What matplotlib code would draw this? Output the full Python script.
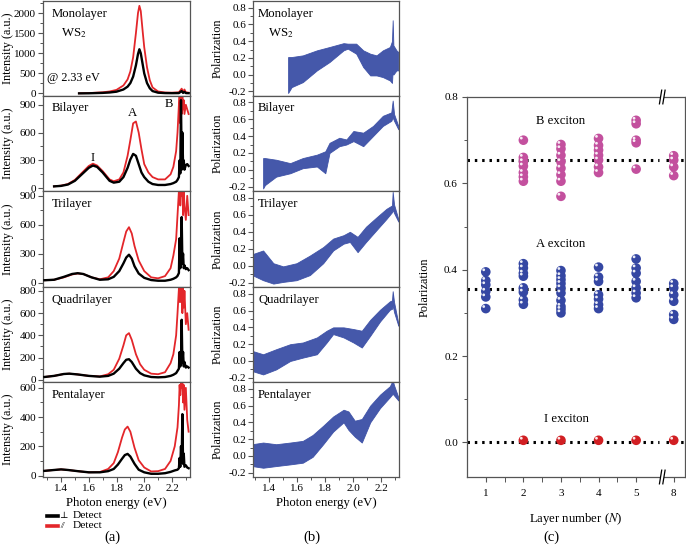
import matplotlib
matplotlib.use('Agg')
import matplotlib.pyplot as plt
import matplotlib.transforms as mtransforms
from matplotlib.lines import Line2D
from matplotlib.patches import Rectangle
from matplotlib.ticker import MultipleLocator, FormatStrFormatter

plt.rcParams['font.family'] = ['Liberation Serif', 'DejaVu Serif']
plt.rcParams['mathtext.fontset'] = 'stix'
plt.rcParams['axes.unicode_minus'] = True

# ---------------- (a) PL intensity spectra ----------------
mono_x = [1.53, 1.60, 1.70, 1.75, 1.80, 1.85, 1.88, 1.90, 1.92, 1.94, 1.955, 1.965, 1.975, 1.99,
          2.00, 2.02, 2.04, 2.06, 2.10, 2.15, 2.20, 2.25, 2.27, 2.28, 2.29, 2.30, 2.32]
mono_red = [5, 10, 30, 50, 90, 200, 350, 550, 900, 1500, 2000, 2180, 2050, 1500,
            1150, 650, 330, 150, 50, 25, 20, 30, 120, 40, 100, 30, 20]
mono_black = [3, 5, 15, 25, 45, 100, 170, 260, 420, 700, 980, 1100, 1000, 700,
              500, 260, 130, 60, 20, 10, 8, 10, 60, 15, 40, 10, 8]

bi_x = [1.35, 1.40, 1.45, 1.50, 1.55, 1.60, 1.63, 1.66, 1.70, 1.75, 1.78, 1.82, 1.85, 1.88, 1.90,
        1.92, 1.94, 1.96, 1.98, 2.00, 2.03, 2.06, 2.10, 2.15, 2.19, 2.21, 2.23, 2.24, 2.25, 2.255,
        2.26, 2.265, 2.27, 2.275, 2.28, 2.285, 2.29, 2.30, 2.31, 2.32]
bi_black = [20, 25, 40, 80, 150, 220, 245, 230, 170, 80, 60, 70, 120, 220, 310,
            370, 350, 260, 170, 120, 70, 45, 35, 35, 45, 55, 70, 90, 120, 300,
            160, 950, 200, 600, 250, 300, 200, 250, 260, 240]
bi_red = [20, 28, 45, 90, 165, 240, 265, 245, 185, 95, 75, 95, 170, 350, 520,
          700, 720, 600, 420, 260, 170, 120, 95, 95, 150, 230, 400, 600, 900, 1000,
          700, 1000, 800, 1000, 850, 950, 800, 900, 850, 800]

tri_x = [1.28, 1.35, 1.42, 1.48, 1.52, 1.56, 1.62, 1.68, 1.74, 1.78, 1.82, 1.85, 1.87, 1.89,
         1.91, 1.93, 1.96, 2.00, 2.05, 2.10, 2.15, 2.19, 2.21, 2.23, 2.24, 2.25, 2.255, 2.26,
         2.265, 2.27, 2.275, 2.28, 2.285, 2.29, 2.30, 2.31, 2.32]
tri_black = [25, 30, 60, 90, 98, 90, 55, 30, 35, 60, 120, 200, 260, 290,
             250, 170, 95, 50, 27, 20, 20, 30, 40, 55, 70, 100, 460, 150,
             200, 680, 200, 300, 150, 180, 140, 150, 130]
tri_red = [25, 30, 55, 85, 95, 90, 55, 35, 55, 120, 250, 420, 530, 575,
           510, 380, 230, 120, 55, 45, 68, 150, 280, 450, 700, 950, 1000, 800,
           1000, 900, 1000, 700, 950, 800, 650, 900, 700]

quad_x = [1.28, 1.35, 1.42, 1.46, 1.52, 1.60, 1.68, 1.74, 1.78, 1.82, 1.85, 1.87, 1.89, 1.91,
          1.94, 1.97, 2.00, 2.05, 2.10, 2.15, 2.19, 2.21, 2.23, 2.24, 2.25, 2.255, 2.26, 2.265,
          2.27, 2.275, 2.28, 2.285, 2.29, 2.30, 2.31, 2.32]
quad_black = [25, 35, 52, 55, 48, 35, 28, 35, 55, 100, 150, 180, 185, 160,
              100, 60, 40, 25, 22, 25, 35, 45, 60, 80, 100, 250, 120, 160,
              540, 150, 250, 120, 160, 110, 120, 110]
quad_red = [25, 35, 52, 55, 48, 35, 30, 50, 90, 190, 310, 400, 420, 360,
            230, 140, 90, 55, 50, 68, 150, 230, 400, 600, 820, 700, 850, 700,
            850, 600, 820, 650, 800, 500, 600, 450]

penta_x = [1.28, 1.35, 1.40, 1.45, 1.52, 1.60, 1.68, 1.74, 1.78, 1.81, 1.84, 1.86, 1.88, 1.90,
           1.93, 1.96, 2.00, 2.05, 2.10, 2.15, 2.19, 2.22, 2.24, 2.25, 2.255, 2.26, 2.265, 2.27,
           2.275, 2.28, 2.285, 2.29, 2.30, 2.31, 2.32]
penta_black = [32, 38, 42, 38, 30, 22, 22, 30, 45, 75, 115, 140, 148, 130,
               80, 40, 22, 12, 12, 16, 25, 35, 40, 50, 120, 60, 200, 90,
               420, 80, 150, 60, 70, 55, 50]
penta_red = [32, 38, 42, 38, 30, 22, 24, 45, 85, 160, 260, 315, 335, 300,
             190, 105, 55, 28, 30, 45, 100, 200, 330, 480, 620, 550, 640, 600,
             640, 500, 620, 450, 600, 380, 300]

layer_names = ['Monolayer', 'Bilayer', 'Trilayer', 'Quadrilayer', 'Pentalayer']

# ---------------- (b) polarization envelopes ----------------
pm_x = [1.535, 1.56, 1.64, 1.74, 1.83, 1.93, 1.96, 2.02, 2.07, 2.12, 2.165, 2.21, 2.26, 2.275, 2.28, 2.285, 2.307, 2.32]
pm_hi = [0.21, 0.21, 0.23, 0.29, 0.33, 0.376, 0.37, 0.37, 0.29, 0.25, 0.23, 0.29, 0.33, 0.40, 0.65, 0.35, 0.29, 0.27]
pm_lo = [-0.22, -0.15, -0.09, 0.05, 0.15, 0.29, 0.31, 0.25, 0.09, -0.01, -0.01, -0.03, -0.07, -0.10, 0.05, 0.0, 0.05, 0.05]

pb_x = [1.357, 1.37, 1.45, 1.55, 1.64, 1.74, 1.80, 1.83, 1.90, 1.95, 2.00, 2.07, 2.14, 2.21, 2.27, 2.28, 2.29, 2.32]
pb_hi = [0.14, 0.14, 0.12, 0.08, 0.14, 0.18, 0.22, 0.32, 0.38, 0.36, 0.46, 0.44, 0.52, 0.64, 0.68, 0.82, 0.66, 0.52]
pb_lo = [-0.22, -0.18, -0.08, -0.04, 0.02, 0.04, -0.04, 0.20, 0.28, 0.30, 0.34, 0.28, 0.40, 0.52, 0.58, 0.62, 0.58, 0.48]

pt_x = [1.28, 1.357, 1.43, 1.50, 1.595, 1.69, 1.785, 1.856, 1.93, 1.975, 2.03, 2.09, 2.165, 2.235, 2.275, 2.28, 2.29, 2.32]
pt_hi = [0.136, 0.18, 0.03, -0.007, 0.03, 0.12, 0.22, 0.32, 0.36, 0.40, 0.34, 0.46, 0.57, 0.67, 0.71, 0.87, 0.72, 0.55]
pt_lo = [-0.11, -0.17, -0.21, -0.19, -0.17, -0.11, 0.03, 0.18, 0.26, 0.28, 0.16, 0.28, 0.42, 0.55, 0.63, 0.66, 0.62, 0.52]

pq_x = [1.28, 1.357, 1.45, 1.55, 1.64, 1.74, 1.81, 1.856, 1.93, 2.00, 2.06, 2.12, 2.19, 2.26, 2.275, 2.28, 2.29, 2.32]
pq_hi = [0.12, 0.08, 0.14, 0.20, 0.22, 0.28, 0.36, 0.40, 0.40, 0.38, 0.36, 0.49, 0.61, 0.71, 0.72, 0.83, 0.70, 0.45]
pq_lo = [-0.12, -0.16, -0.10, 0.0, 0.04, 0.08, 0.22, 0.32, 0.28, 0.22, 0.16, 0.30, 0.47, 0.61, 0.62, 0.66, 0.58, 0.42]

pp_x = [1.28, 1.357, 1.45, 1.55, 1.64, 1.71, 1.785, 1.856, 1.93, 1.965, 2.01, 2.06, 2.12, 2.19, 2.26, 2.28, 2.29, 2.32]
pp_hi = [0.14, 0.16, 0.14, 0.16, 0.18, 0.25, 0.36, 0.47, 0.55, 0.53, 0.42, 0.44, 0.60, 0.73, 0.83, 0.90, 0.84, 0.70]
pp_lo = [-0.12, -0.14, -0.12, -0.10, -0.08, -0.01, 0.14, 0.29, 0.40, 0.31, 0.23, 0.16, 0.40, 0.57, 0.70, 0.74, 0.72, 0.66]

# ---------------- (c) polarization vs layer number ----------------
layer_labels = ['1', '2', '3', '4', '5', '8']
layer_pos = [1, 2, 3, 4, 5, 6]
B_vals = {2: [0.70, 0.66, 0.65, 0.64, 0.625, 0.615, 0.605],
          3: [0.69, 0.68, 0.665, 0.65, 0.635, 0.62, 0.605, 0.57],
          4: [0.704, 0.688, 0.677, 0.665, 0.654, 0.638, 0.625],
          5: [0.746, 0.738, 0.70, 0.694, 0.633],
          6: [0.664, 0.654, 0.638, 0.618]}
A_vals = {1: [0.395, 0.375, 0.365, 0.35, 0.337, 0.31],
          2: [0.414, 0.404, 0.392, 0.385, 0.358, 0.348, 0.33, 0.32],
          3: [0.398, 0.386, 0.377, 0.368, 0.358, 0.346, 0.329, 0.315, 0.308, 0.30],
          4: [0.406, 0.383, 0.373, 0.342, 0.332, 0.319, 0.31],
          5: [0.425, 0.404, 0.392, 0.373, 0.358, 0.346, 0.335],
          6: [0.368, 0.358, 0.342, 0.327, 0.296, 0.285]}
I_vals = {2: [0.005], 3: [0.005], 4: [0.005], 5: [0.005], 6: [0.005]}
B_mean, A_mean, I_mean = 0.655, 0.355, 0.0

# ---------------- figure ----------------
W, H = 686, 548
fig = plt.figure(figsize=(W / 100, H / 100), dpi=100)

def px_axes(l, t, r, b):
    return fig.add_axes([l / W, 1 - b / H, (r - l) / W, (b - t) / H])

SPC = '#555555'
FS = 8.0
LFS = 8.8
NFS = 9.2

def style(ax):
    for s in ax.spines.values():
        s.set_color(SPC)
        s.set_linewidth(0.9)
    ax.tick_params(which='both', direction='out', color=SPC, labelsize=FS, pad=1.5)
    ax.tick_params(which='major', length=3.5, width=0.8)
    ax.tick_params(which='minor', length=2, width=0.7)

tops = [1, 95.5, 191, 287, 382]
bots = [95.5, 191, 287, 382, 477]

spectra = [(mono_x, mono_black, mono_red, (-50, 2300), 500, 250),
           (bi_x, bi_black, bi_red, (-30, 1000), 300, 150),
           (tri_x, tri_black, tri_red, (-45, 950), 300, 150),
           (quad_x, quad_black, quad_red, (-20, 835), 200, 100),
           (penta_x, penta_black, penta_red, (-10, 640), 200, 100)]
pols = [(pm_x, pm_hi, pm_lo), (pb_x, pb_hi, pb_lo), (pt_x, pt_hi, pt_lo),
        (pq_x, pq_hi, pq_lo), (pp_x, pp_hi, pp_lo)]

RED = '#e3262a'
BLUE = '#3b4fa6'
XL = (1.27, 2.33)

for i in range(5):
    x, yb, yr, yl, maj, mnr = spectra[i]
    ax = px_axes(43, tops[i], 190, bots[i])
    style(ax)
    ax.plot(x, yr, color=RED, lw=1.3, zorder=2)
    ax.plot(x, yb, color='black', lw=1.7, zorder=3)
    ax.set_xlim(*XL)
    ax.set_ylim(*yl)
    ax.xaxis.set_major_locator(MultipleLocator(0.2))
    ax.xaxis.set_minor_locator(MultipleLocator(0.1))
    ax.xaxis.set_major_formatter(FormatStrFormatter('%.1f'))
    ax.yaxis.set_major_locator(MultipleLocator(maj))
    ax.yaxis.set_minor_locator(MultipleLocator(mnr))
    ax.set_ylabel('Intensity (a.u.)', fontsize=LFS)
    ax.yaxis.set_label_coords(-0.195, 0.5)
    ax.text(0.06, 0.93, layer_names[i], transform=ax.transAxes, fontsize=NFS, va='top', ha='left')
    if i < 4:
        ax.tick_params(axis='x', which='both', length=0, labelbottom=False)
    else:
        ax.set_xlabel('Photon energy (eV)', fontsize=NFS, labelpad=3)
    if i == 0:
        ax.text(0.12, 0.73, 'WS$_2$', transform=ax.transAxes, fontsize=NFS, va='top', ha='left')
        ax.text(0.03, 0.19, '@ 2.33 eV', transform=ax.transAxes, fontsize=8.8, va='center', ha='left')
    if i == 1:
        ax.text(1.625, 290, 'I', fontsize=NFS, ha='center')
        ax.text(1.915, 780, 'A', fontsize=NFS, ha='center')
        ax.text(2.175, 880, 'B', fontsize=NFS, ha='center')

    # polarization panel
    px, hi, lo = pols[i]
    bx = px_axes(253, tops[i], 399, bots[i])
    style(bx)
    bx.fill_between(px, lo, hi, color=BLUE, alpha=0.95, lw=0.6, edgecolor=BLUE)
    bx.set_xlim(1.285, 2.325)
    bx.set_ylim(-0.25, 0.88)
    bx.xaxis.set_major_locator(MultipleLocator(0.2))
    bx.xaxis.set_minor_locator(MultipleLocator(0.1))
    bx.xaxis.set_major_formatter(FormatStrFormatter('%.1f'))
    bx.yaxis.set_major_locator(MultipleLocator(0.2))
    bx.yaxis.set_minor_locator(MultipleLocator(0.1))
    bx.yaxis.set_major_formatter(FormatStrFormatter('%.1f'))
    bx.set_ylabel('Polarization', fontsize=LFS)
    bx.yaxis.set_label_coords(-0.2, 0.5)
    bx.text(0.035, 0.93, layer_names[i], transform=bx.transAxes, fontsize=NFS, va='top', ha='left')
    if i < 4:
        bx.tick_params(axis='x', which='both', length=0, labelbottom=False)
    else:
        bx.set_xlabel('Photon energy (eV)', fontsize=NFS, labelpad=3)
    if i == 0:
        bx.text(0.10, 0.73, 'WS$_2$', transform=bx.transAxes, fontsize=NFS, va='top', ha='left')

# legend for (a)
fig.add_artist(Line2D([47 / W, 58 / W], [1 - 515.5 / H] * 2, color='black', lw=2.6))
fig.add_artist(Line2D([47 / W, 58 / W], [1 - 526 / H] * 2, color=RED, lw=2.6))
fig.text(59.5 / W, 1 - 516.5 / H, '\u22a5', fontsize=6.5, va='center', ha='left')
fig.text(60 / W, 1 - 526 / H, '//', fontsize=5.5, va='center', ha='left', style='italic')
fig.text(73 / W, 1 - 515 / H, 'Detect', fontsize=8.2, va='center', ha='left')
fig.text(73 / W, 1 - 526 / H, 'Detect', fontsize=8.2, va='center', ha='left')

# ---------------- (c) ----------------
cx = px_axes(467, 97, 685, 477)
style(cx)
cx.set_xlim(0.5, 6.3)
cx.set_ylim(-0.08, 0.8)
cx.set_xticks(layer_pos)
cx.set_xticklabels(layer_labels)
cx.set_xticks([1.5, 2.5, 3.5, 4.5], minor=True)
cx.yaxis.set_major_locator(MultipleLocator(0.2))
cx.yaxis.set_minor_locator(MultipleLocator(0.1))
cx.yaxis.set_major_formatter(FormatStrFormatter('%.1f'))
cx.tick_params(axis='x', which='minor', length=3.5)
cx.tick_params(axis='x', which='major', pad=5)
cx.tick_params(axis='y', which='major', pad=3)
cx.set_xlabel('Layer number ($N$)', fontsize=NFS)
cx.xaxis.set_label_coords(0.5, -0.09)
cx.set_ylabel('Polarization', fontsize=LFS)
cx.yaxis.set_label_coords(-0.165, 0.5)

brk = 5.68
for ym in (B_mean, A_mean, I_mean):
    cx.plot([0.5, brk - 0.06], [ym, ym], color='black', lw=2.2, ls=(0, (0.8, 1.6)), zorder=2)
    cx.plot([brk + 0.12, 6.3], [ym, ym], color='black', lw=2.2, ls=(0, (0.8, 1.6)), zorder=2)

hl = mtransforms.offset_copy(cx.transData, fig=fig, x=-1.5, y=1.5, units='points')
for vals, col in ((B_vals, '#c3509e'), (A_vals, '#3547a3'), (I_vals, '#d11f23')):
    for p, v in vals.items():
        cx.scatter([p] * len(v), v, s=48, color=col, edgecolors='none', zorder=3)
        cx.scatter([p] * len(v), v, s=4, color='white', edgecolors='none', zorder=4, alpha=0.9, transform=hl)

cx.text(3.0, 0.745, 'B exciton', fontsize=NFS, ha='center', va='center')
cx.text(3.0, 0.46, 'A exciton', fontsize=NFS, ha='center', va='center')
cx.text(3.15, 0.055, 'I exciton', fontsize=NFS, ha='center', va='center')

# axis break marks on top and bottom spines
bt = mtransforms.blended_transform_factory(cx.transData, cx.transAxes)
for yy in (0.0, 1.0):
    cx.add_patch(Rectangle((brk - 0.03, yy - 0.012), 0.1, 0.024, transform=bt,
                           facecolor='white', edgecolor='none', clip_on=False, zorder=5))
    for dx in (-0.03, 0.06):
        cx.add_artist(Line2D([brk + dx - 0.03, brk + dx + 0.03], [yy - 0.018, yy + 0.018],
                             transform=bt, color='black', lw=0.9, clip_on=False, zorder=6))

# panel labels
fig.text(112 / W, 1 - 537 / H, '(a)', fontsize=10.5, ha='center', va='center')
fig.text(312 / W, 1 - 537 / H, '(b)', fontsize=10.5, ha='center', va='center')
fig.text(551 / W, 1 - 537 / H, '(c)', fontsize=10.5, ha='center', va='center')

fig.savefig('out.png', dpi=100)
